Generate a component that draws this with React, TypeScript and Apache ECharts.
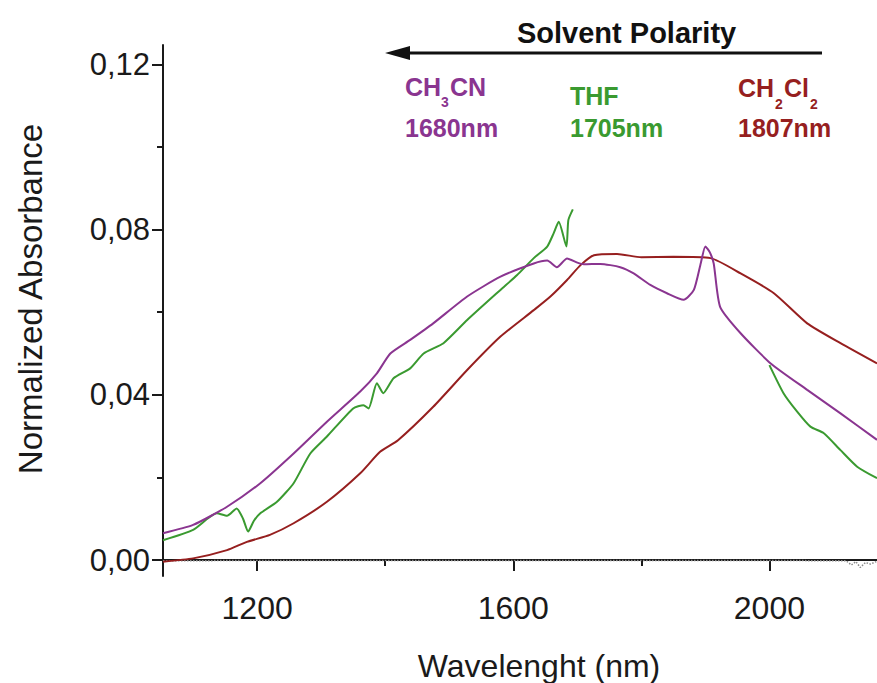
import React, { useEffect, useRef } from "react";
import * as echarts from "echarts";

// CH3CN (purple)
const ch3cnX = [1053, 1100, 1153, 1205, 1257, 1309, 1361, 1387, 1408, 1439, 1475, 1528, 1580, 1632, 1653, 1668, 1684, 1700, 1710, 1736, 1767, 1788, 1814, 1840, 1866, 1882, 1893, 1900, 1907, 1913, 1923, 1955, 2002, 2059, 2111, 2168];
const ch3cnY = [0.0065, 0.0085, 0.0129, 0.0186, 0.0258, 0.0335, 0.0408, 0.0452, 0.05, 0.0533, 0.0573, 0.0638, 0.0686, 0.0718, 0.0725, 0.0709, 0.073, 0.072, 0.0716, 0.0717, 0.0709, 0.0694, 0.0666, 0.0646, 0.063, 0.0654, 0.072, 0.0759, 0.0745, 0.0718, 0.0613, 0.0549, 0.0476, 0.0412, 0.0355, 0.0291];

// THF (green) - null marks the gap
const thfX = [1053, 1100, 1137, 1153, 1168, 1178, 1186, 1195, 1205, 1231, 1257, 1283, 1309, 1350, 1366, 1374, 1387, 1397, 1413, 1439, 1460, 1491, 1528, 1580, 1606, 1632, 1653, 1663, 1671, 1683, 1686, 1693, 1850, 2000, 2022, 2043, 2064, 2085, 2111, 2137, 2168];
const thfY = [0.0048, 0.0073, 0.0113, 0.0107, 0.0125, 0.01, 0.0069, 0.0095, 0.0113, 0.0141, 0.0186, 0.0258, 0.0299, 0.0367, 0.0375, 0.0367, 0.0428, 0.0404, 0.044, 0.0464, 0.05, 0.0525, 0.0581, 0.0654, 0.069, 0.0731, 0.0759, 0.0791, 0.0819, 0.0759, 0.0823, 0.0849, null, 0.0472, 0.0404, 0.036, 0.0323, 0.0307, 0.0266, 0.0226, 0.0198];

// CH2Cl2 (dark red)
const ch2cl2X = [1053, 1100, 1153, 1184, 1220, 1257, 1309, 1361, 1392, 1420, 1475, 1528, 1580, 1632, 1658, 1684, 1705, 1726, 1762, 1800, 1850, 1908, 1955, 2007, 2059, 2111, 2168];
const ch2cl2Y = [-0.0004, 0.0004, 0.0024, 0.0044, 0.0061, 0.0089, 0.0141, 0.021, 0.0262, 0.029, 0.0371, 0.046, 0.0541, 0.0605, 0.0638, 0.0678, 0.0714, 0.0738, 0.0741, 0.0733, 0.0734, 0.0731, 0.0694, 0.0646, 0.0573, 0.0525, 0.0476];

// Baseline (dotted grey)
const baseX = [1053, 1200, 1400, 1600, 1800, 2000, 2120, 2128, 2135, 2142, 2150, 2158, 2168];
const baseY = [-0.0002, -0.0001, -0.0001, -0.0001, -0.0001, -0.0001, -0.0002, -0.0012, -0.0004, -0.0018, -0.0006, -0.001, -0.0003];

const xMajorTicks = [1200, 1600, 2000];
const xMinorTicks = [1400, 1800];
const yMajorTicks = [0, 0.04, 0.08, 0.12];
const yMinorTicks = [0.02, 0.06, 0.1];

const X_MIN = 1053;
const X_MAX = 2168;
const Y_MIN = -0.00387;
const Y_MAX = 0.1247;

const PURPLE = "#8a3590";
const GREEN = "#3a9a30";
const RED = "#961f1f";
const FONT = "'Liberation Sans', Arial, sans-serif";

const zip = (xs: number[], ys: (number | null)[]) => xs.map((x, i) => [x, ys[i]]);

export default function App() {
  const ref = useRef<HTMLDivElement>(null);
  useEffect(() => {
    if (!ref.current) return;
    const chart = echarts.init(ref.current, null, { renderer: "svg" });
    const axisLineStyle = { color: "#1a1a1a", width: 2 };
    const txt = (text: string, x: number, y: number, size: number, color: string, extra: any = {}) => ({
      type: "text",
      x,
      y,
      style: {
        text,
        fill: color,
        font: `bold ${size}px ${FONT}`,
        textAlign: "left",
        textVerticalAlign: "middle",
        ...extra,
      },
    });
    chart.setOption({
      animation: false,
      backgroundColor: "#ffffff",
      grid: { left: 163, right: 0, top: 45, bottom: 107, containLabel: false },
      xAxis: [
        {
          type: "value",
          min: X_MIN,
          max: X_MAX,
          position: "bottom",
          axisLine: { show: true, lineStyle: axisLineStyle },
          axisTick: { show: true, length: 11, lineStyle: { color: "#1a1a1a", width: 2 }, customValues: xMajorTicks },
          axisLabel: {
            show: true,
            customValues: xMajorTicks,
            fontSize: 32,
            color: "#1a1a1a",
            fontFamily: FONT,
            margin: 16,
            formatter: (v: number) => String(Math.round(v)),
          },
          splitLine: { show: false },
        },
        {
          type: "value",
          min: X_MIN,
          max: X_MAX,
          position: "bottom",
          axisLine: { show: false },
          axisTick: { show: true, length: 6, lineStyle: { color: "#1a1a1a", width: 2 }, customValues: xMinorTicks },
          axisLabel: { show: false },
          splitLine: { show: false },
        },
      ],
      yAxis: [
        {
          type: "value",
          min: Y_MIN,
          max: Y_MAX,
          position: "left",
          axisLine: { show: true, lineStyle: axisLineStyle },
          axisTick: { show: true, length: 11, lineStyle: { color: "#1a1a1a", width: 2 }, customValues: yMajorTicks },
          axisLabel: {
            show: true,
            customValues: yMajorTicks,
            fontSize: 31,
            color: "#1a1a1a",
            fontFamily: FONT,
            margin: 13,
            formatter: (v: number) => v.toFixed(2).replace(".", ","),
          },
          splitLine: { show: false },
        },
        {
          type: "value",
          min: Y_MIN,
          max: Y_MAX,
          position: "left",
          axisLine: { show: false },
          axisTick: { show: true, length: 6, lineStyle: { color: "#1a1a1a", width: 2 }, customValues: yMinorTicks },
          axisLabel: { show: false },
          splitLine: { show: false },
        },
      ],
      series: [
        {
          type: "line",
          name: "baseline",
          data: zip(baseX, baseY),
          showSymbol: false,
          lineStyle: { color: "#8a8a8a", width: 1.5, type: "dotted" },
          z: 1,
        },
        {
          type: "line",
          name: "CH2Cl2",
          data: zip(ch2cl2X, ch2cl2Y),
          showSymbol: false,
          smooth: 0.2,
          lineStyle: { color: RED, width: 2 },
          z: 2,
        },
        {
          type: "line",
          name: "THF",
          data: zip(thfX, thfY),
          showSymbol: false,
          smooth: 0.2,
          connectNulls: false,
          lineStyle: { color: GREEN, width: 2 },
          z: 3,
        },
        {
          type: "line",
          name: "CH3CN",
          data: zip(ch3cnX, ch3cnY),
          showSymbol: false,
          smooth: 0.2,
          lineStyle: { color: PURPLE, width: 2 },
          z: 4,
        },
      ],
      graphic: [
        {
          type: "text",
          x: 30,
          y: 299,
          rotation: Math.PI / 2,
          style: {
            text: "Normalized Absorbance",
            fill: "#1a1a1a",
            font: `33px ${FONT}`,
            textAlign: "center",
            textVerticalAlign: "middle",
          },
        },
        {
          type: "text",
          x: 539,
          y: 666,
          style: {
            text: "Wavelenght (nm)",
            fill: "#1a1a1a",
            font: `32px ${FONT}`,
            textAlign: "center",
            textVerticalAlign: "middle",
          },
        },
        txt("Solvent Polarity", 517, 33, 29, "#111111"),
        {
          type: "line",
          shape: { x1: 405, y1: 53, x2: 822, y2: 53 },
          style: { stroke: "#111111", lineWidth: 3 },
        },
        {
          type: "polygon",
          shape: { points: [[385, 53], [410, 46], [410, 60]] },
          style: { fill: "#111111" },
        },
        txt("CH", 405, 87, 25, PURPLE),
        txt("3", 441, 102, 14, PURPLE),
        txt("CN", 450, 87, 25, PURPLE),
        txt("1680nm", 405, 128, 25, PURPLE),
        txt("THF", 570, 96, 25, GREEN),
        txt("1705nm", 570, 128, 25, GREEN),
        txt("CH", 738, 88, 25, RED),
        txt("2", 775, 104, 14, RED),
        txt("Cl", 784, 88, 25, RED),
        txt("2", 810, 104, 14, RED),
        txt("1807nm", 738, 128, 25, RED),
      ],
    });
    return () => chart.dispose();
  }, []);
  return (
    <div
      ref={ref}
      style={{ position: "fixed", left: 0, top: 0, width: 877, height: 683, background: "#fff" }}
    />
  );
}
